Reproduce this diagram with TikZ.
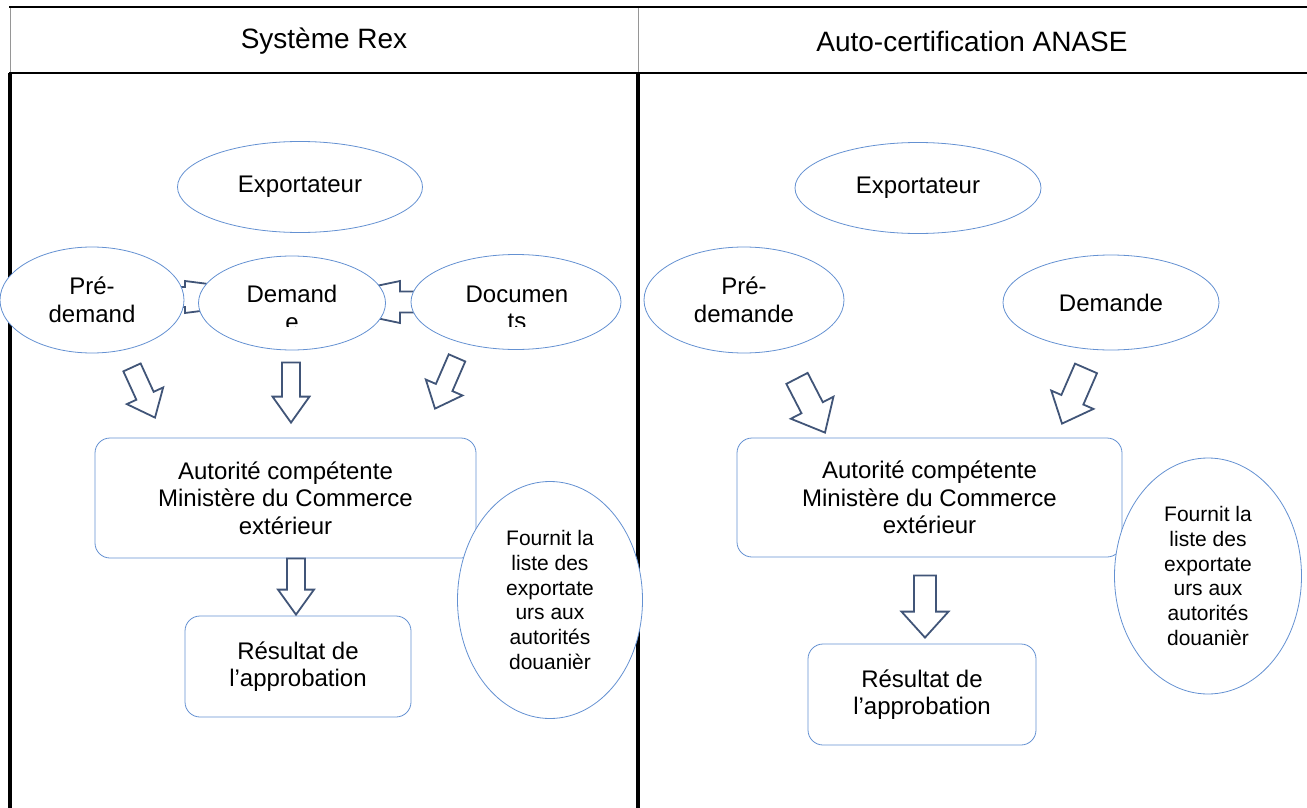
\documentclass[tikz,border=0pt]{standalone}
\usepackage{fontspec}
\setmainfont{Liberation Sans}
\usepackage{tikz}
\usetikzlibrary{shapes,positioning,calc}
\definecolor{shapeblue}{RGB}{100,145,210}
\definecolor{arrowslate}{RGB}{65,85,120}
\definecolor{rulegray}{RGB}{150,150,150}
\tikzstyle{oval} = [ellipse, draw=shapeblue, fill=white, line width=0.8pt, inner sep=0pt, align=center, font=\fontsize{24}{27.5}\selectfont]
\tikzstyle{listoval} = [oval, font=\fontsize{21}{24.7}\selectfont]
\tikzstyle{roundbox} = [rectangle, rounded corners=15pt, draw=shapeblue, fill=white, line width=0.8pt, align=center, font=\fontsize{24}{27.5}\selectfont]
\tikzstyle{headtext} = [font=\fontsize{28}{34}\selectfont]
\tikzstyle{rulethick} = [line width=2.8pt]
\tikzstyle{rulethin} = [line width=1pt, color=rulegray]
% hollow block arrow: shaft half width / head half width / head length
\tikzset{barrow/.style n args={3}{draw=arrowslate, line width=1.8pt, line join=miter, to path={
  let \p1=($(\tikztotarget)!#3!(\tikztostart)$) in
  ($(\tikztostart)!#1!90:(\tikztotarget)$) -- ($(\p1)!#1!90:(\tikztotarget)$) -- ($(\p1)!#2!90:(\tikztotarget)$)
  -- (\tikztotarget) -- ($(\p1)!#2!-90:(\tikztotarget)$) -- ($(\p1)!#1!-90:(\tikztotarget)$)
  -- ($(\tikztostart)!#1!-90:(\tikztotarget)$) -- cycle}}}

\begin{document}
\begin{tikzpicture}[x=1pt, y=-1pt]
\useasboundingbox (0,0) rectangle (1307,808);

% table
\draw[rulethin] (10,7) -- (10,73);
\draw[rulethin] (638,7) -- (638,73);
\draw[rulethick] (9,7) -- (1307,7);
\draw[rulethick] (9,73) -- (1307,73);
\draw[rulethick, line width=3.2pt] (10,73) -- (10,808);
\draw[rulethick, line width=3.2pt] (638,73) -- (638,808);
\node[headtext] (rexhead) at (324,41) {Système Rex};
\node[headtext] (asehead) at (972,41) {Auto-certification ANASE};

% Systeme Rex
\coordinate (h1a) at (130,297);
\coordinate (h1b) at (310,297);
\coordinate (h2a) at (445,302);
\coordinate (h2b) at (300,302);
\draw[barrow={10pt}{16pt}{125pt}] (h1a) to (h1b);
\draw[barrow={10.5pt}{21pt}{100pt}] (h2a) to (h2b);

\node[oval, minimum width=245pt, minimum height=91pt] (rexexp) at (300,187) {Exportateur};
\node[oval, minimum width=184pt, minimum height=106pt] (rexpre) at (92,300) {Pré-\\demand};
\node[oval, minimum width=187pt, minimum height=94pt] (rexdem) at (292,303) {};
\node[oval, minimum width=210pt, minimum height=95pt] (rexdoc) at (516,302) {};
\begin{scope}
\clip (0,0) rectangle (1307,326);
\node[align=center, font=\fontsize{24}{27.5}\selectfont] (rexdemtxt) at (292,308) {Demand\\e};
\node[align=center, font=\fontsize{24}{27.5}\selectfont] (rexdoctxt) at (517,308) {Documen\\ts};
\end{scope}

\node[roundbox, minimum width=381pt, minimum height=120pt] (rexauth) at (285.5,498) {Autorité compétente\\Ministère du Commerce\\extérieur};
\node[roundbox, minimum width=226pt, minimum height=101pt] (rexres) at (298,666.5) {Résultat de\\l’approbation};
\node[listoval, minimum width=185pt, minimum height=237pt] (rexlist) at (550,600) {Fournit la\\liste des\\exportate\\urs aux\\autorités\\douanièr};

\coordinate (r1a) at ($(rexpre.south)+(40,14)$);
\coordinate (r1b) at ($(rexauth.north)+(-130.5,-20)$);
\coordinate (r2a) at ($(rexdem.south)+(-1,12)$);
\coordinate (r2b) at ($(rexauth.north)+(5.5,-15)$);
\coordinate (r3a) at ($(rexdoc.south)+(-59,8)$);
\coordinate (r3b) at ($(rexauth.north)+(149.5,-29)$);
\coordinate (r4a) at ($(rexauth.south)+(10.5,0)$);
\coordinate (r4b) at ($(rexres.north)+(-2,-1)$);
\draw[barrow={9.5pt}{20pt}{24pt}] (r1a) to (r1b);
\draw[barrow={9pt}{18.5pt}{26pt}] (r2a) to (r2b);
\draw[barrow={9pt}{20pt}{23pt}] (r3a) to (r3b);
\draw[barrow={9pt}{18pt}{25pt}] (r4a) to (r4b);

% Auto-certification ANASE
\node[oval, minimum width=246pt, minimum height=91pt] (aseexp) at (918,188) {Exportateur};
\node[oval, minimum width=200pt, minimum height=106pt] (asepre) at (744,300) {Pré-\\demande};
\node[oval, minimum width=216pt, minimum height=95pt] (asedem) at (1111,302.5) {Demande};
\node[roundbox, minimum width=385pt, minimum height=119pt] (aseauth) at (929.5,497.5) {Autorité compétente\\Ministère du Commerce\\extérieur};
\node[roundbox, minimum width=228pt, minimum height=101pt] (aseres) at (922,694.5) {Résultat de\\l’approbation};
\node[listoval, minimum width=187pt, minimum height=236pt] (aselist) at (1208,576) {Fournit la\\liste des\\exportate\\urs aux\\autorités\\douanièr};

\coordinate (a1a) at ($(asepre.south)+(53,25)$);
\coordinate (a1b) at ($(aseauth.north)+(-104.5,-5)$);
\coordinate (a2a) at ($(asedem.south)+(-25,18)$);
\coordinate (a2b) at ($(aseauth.north)+(132.5,-14)$);
\coordinate (a3a) at ($(aseauth.south)+(-4.5,18)$);
\coordinate (a3b) at ($(aseres.north)+(3,-6)$);
\draw[barrow={12pt}{24pt}{28pt}] (a1a) to (a1b);
\draw[barrow={12pt}{23pt}{26pt}] (a2a) to (a2b);
\draw[barrow={11pt}{23.5pt}{26pt}] (a3a) to (a3b);
\end{tikzpicture}
\end{document}
